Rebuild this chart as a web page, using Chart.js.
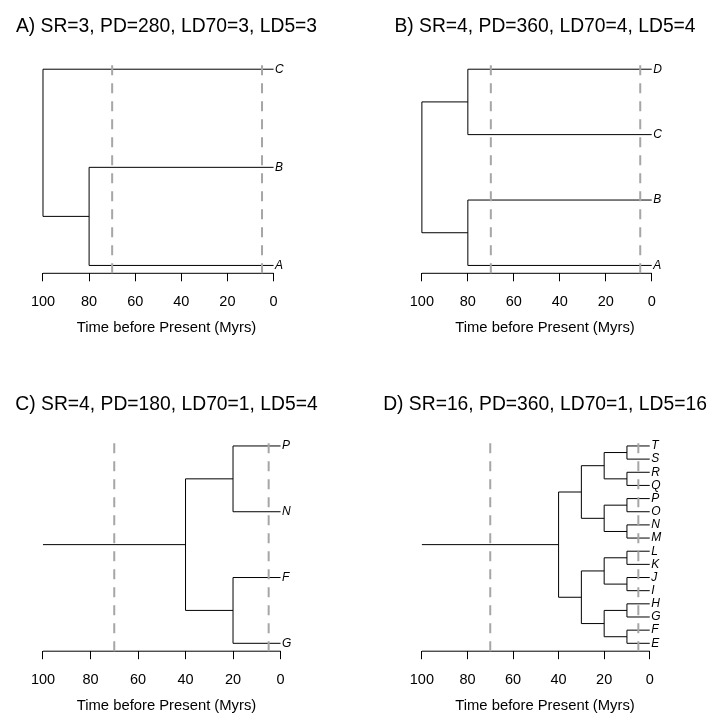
<!DOCTYPE html>
<html>
<head>
<meta charset="utf-8">
<script src="https://cdn.jsdelivr.net/npm/chart.js@4.4.1/dist/chart.umd.min.js"></script>
<style>
  html, body { margin: 0; padding: 0; background: #fff; }
  #wrap { position: relative; width: 708px; height: 713px; overflow: hidden; }
  canvas { position: absolute; }
</style>
</head>
<body>
<div id="wrap">
  <canvas id="treeA"></canvas>
  <canvas id="treeB"></canvas>
  <canvas id="treeC"></canvas>
  <canvas id="treeD"></canvas>
</div>
<script>
const FONT = "'Liberation Sans', Arial, Helvetica, sans-serif";
const TICKS = [100, 80, 60, 40, 20, 0];
const CUTOFFS = [70, 5];          // dashed lines, Myrs
const X_TITLE = 'Time before Present (Myrs)';

// A) tips listed bottom to top (y = 1, 2, ...)
const titleA = 'A) SR=3, PD=280, LD70=3, LD5=3';
const tipsA = ['A', 'B', 'C'];
const hBranchA = [[100, 0, 3], [100, 80, 1.5], [80, 0, 2], [80, 0, 1]];   // [from, to, y]
const vBranchA = [[100, 1.5, 3], [80, 1, 2]];                             // [age, y0, y1]

// B)
const titleB = 'B) SR=4, PD=360, LD70=4, LD5=4';
const tipsB = ['A', 'B', 'C', 'D'];
const hBranchB = [[100, 80, 3.5], [100, 80, 1.5], [80, 0, 4], [80, 0, 3], [80, 0, 2], [80, 0, 1]];
const vBranchB = [[100, 1.5, 3.5], [80, 3, 4], [80, 1, 2]];

// C)
const titleC = 'C) SR=4, PD=180, LD70=1, LD5=4';
const tipsC = ['G', 'F', 'N', 'P'];
const hBranchC = [[100, 40, 2.5], [40, 20, 3.5], [40, 20, 1.5], [20, 0, 4], [20, 0, 3], [20, 0, 2], [20, 0, 1]];
const vBranchC = [[40, 1.5, 3.5], [20, 3, 4], [20, 1, 2]];

// D)
const titleD = 'D) SR=16, PD=360, LD70=1, LD5=16';
const tipsD = ['E', 'F', 'G', 'H', 'I', 'J', 'K', 'L', 'M', 'N', 'O', 'P', 'Q', 'R', 'S', 'T'];
const hBranchD = [
  [100, 40, 8.5],
  [40, 30, 12.5], [40, 30, 4.5],
  [30, 20, 14.5], [30, 20, 10.5], [30, 20, 6.5], [30, 20, 2.5],
  [20, 10, 15.5], [20, 10, 13.5], [20, 10, 11.5], [20, 10, 9.5],
  [20, 10, 7.5], [20, 10, 5.5], [20, 10, 3.5], [20, 10, 1.5],
  [10, 0, 16], [10, 0, 15], [10, 0, 14], [10, 0, 13], [10, 0, 12], [10, 0, 11], [10, 0, 10], [10, 0, 9],
  [10, 0, 8], [10, 0, 7], [10, 0, 6], [10, 0, 5], [10, 0, 4], [10, 0, 3], [10, 0, 2], [10, 0, 1]
];
const vBranchD = [
  [40, 4.5, 12.5],
  [30, 10.5, 14.5], [30, 2.5, 6.5],
  [20, 13.5, 15.5], [20, 9.5, 11.5], [20, 5.5, 7.5], [20, 1.5, 3.5],
  [10, 15, 16], [10, 13, 14], [10, 11, 12], [10, 9, 10], [10, 7, 8], [10, 5, 6], [10, 3, 4], [10, 1, 2]
];

// canvas placement, plot-region padding and x range (extra room right of 0 is for tip names)
const boxes = {
  treeA: { left: 0,   top: 0,   w: 333.5, h: 356, pad: 33.1, padTop: 15.4, titleGap: 22.8, padBottom: 20.7, xMin: -11.43, xMax: 104.29 },
  treeB: { left: 382, top: 0,   w: 326,   h: 356, pad: 30,   padTop: 15.4, titleGap: 22.8, padBottom: 20.7, xMin: -11.43, xMax: 104.30 },
  treeC: { left: 0,   top: 356, w: 333.5, h: 358, pad: 33.1, padTop: 37.4, titleGap: 21.5, padBottom: 0.8,  xMin: -8.15,  xMax: 104.16 },
  treeD: { left: 382, top: 356, w: 326,   h: 358, pad: 30,   padTop: 37.4, titleGap: 21.5, padBottom: 0.8,  xMin: -12.41, xMax: 104.34 }
};

// italic tip names next to the tips
const tipLabels = {
  id: 'tipLabels',
  afterDatasetsDraw(chart, args, opts) {
    const { ctx, scales: { x, y } } = chart;
    ctx.save();
    ctx.font = 'italic 12px ' + FONT;
    ctx.fillStyle = '#000';
    ctx.textBaseline = 'middle';
    ctx.textAlign = 'left';
    opts.labels.forEach((lab, i) => {
      ctx.fillText(lab, x.getPixelForValue(0) + 1.5, y.getPixelForValue(i + 1));
    });
    ctx.restore();
  }
};

function seg(pts, color, width, dash) {
  return {
    data: pts, showLine: true, pointRadius: 0, pointHoverRadius: 0,
    borderColor: color, borderWidth: width, borderDash: dash || [],
    fill: false, clip: false
  };
}

function drawTree(id, title, tips, hBranch, vBranch) {
  const b = boxes[id];
  const cv = document.getElementById(id);
  cv.width = b.w; cv.height = b.h;
  cv.style.left = b.left + 'px'; cv.style.top = b.top + 'px';

  const n = tips.length;
  const yMin = 1 - 0.04 * (n - 1);
  const yMax = n + 0.04 * (n - 1);

  const datasets = [];
  // dashed lines first so they sit on top
  CUTOFFS.forEach(c => datasets.push(seg([{ x: c, y: yMin }, { x: c, y: yMax }], '#a6a6a6', 2, [10, 8])));
  hBranch.forEach(([x0, x1, yy]) => datasets.push(seg([{ x: x0, y: yy }, { x: x1, y: yy }], '#000', 1)));
  vBranch.forEach(([xx, y0, y1]) => datasets.push(seg([{ x: xx, y: y0 }, { x: xx, y: y1 }], '#000', 1)));
  // axis line from 100 to 0 only
  datasets.push(seg([{ x: TICKS[0], y: yMin }, { x: TICKS[TICKS.length - 1], y: yMin }], '#000', 1));

  const sideAxis = (pos) => ({
    type: 'linear', position: pos, min: yMin, max: yMax,
    ticks: { display: false }, grid: { display: false }, border: { display: false },
    afterFit: s => { s.width = b.pad; }
  });

  new Chart(cv, {
    type: 'scatter',
    data: { datasets },
    options: {
      responsive: false,
      animation: false,
      events: [],
      layout: { padding: { top: b.padTop, bottom: b.padBottom, left: 0, right: 0 } },
      plugins: {
        legend: { display: false },
        tooltip: { enabled: false },
        title: {
          display: true, text: title, color: '#000',
          font: { family: FONT, size: 19.3, weight: 'normal', lineHeight: 1.2 },
          padding: { top: 0, bottom: b.titleGap }
        },
        tipLabels: { labels: tips }
      },
      scales: {
        x: {
          type: 'linear', reverse: true, min: b.xMin, max: b.xMax,
          afterBuildTicks: s => { s.ticks = TICKS.map(v => ({ value: v })); },
          afterFit: s => { s.height = 62; s.paddingLeft = 0; s.paddingRight = 0; },
          border: { display: false },
          grid: { drawOnChartArea: false, drawTicks: true, tickLength: 8, color: '#000', lineWidth: 1 },
          ticks: { color: '#000', padding: 12, maxRotation: 0, autoSkip: false, font: { family: FONT, size: 14.5 } },
          title: { display: true, text: X_TITLE, color: '#000', padding: 0, font: { family: FONT, size: 14.8, lineHeight: 1 } }
        },
        y: sideAxis('left'),
        yr: sideAxis('right')
      }
    },
    plugins: [tipLabels]
  });
}

drawTree('treeA', titleA, tipsA, hBranchA, vBranchA);
drawTree('treeB', titleB, tipsB, hBranchB, vBranchB);
drawTree('treeC', titleC, tipsC, hBranchC, vBranchC);
drawTree('treeD', titleD, tipsD, hBranchD, vBranchD);
</script>
</body>
</html>
